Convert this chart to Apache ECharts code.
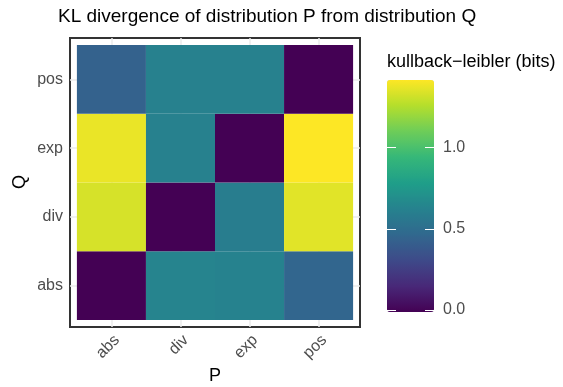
<!DOCTYPE html>
<html>
<head>
<meta charset="utf-8">
<script src="https://cdn.jsdelivr.net/npm/echarts@6/dist/echarts.min.js"></script>
<style>html,body{margin:0;padding:0;background:#fff}#c{width:563px;height:387px}</style>
</head>
<body>
<div id="c"></div>
<script>
// Categories
const pCats = ['abs', 'div', 'exp', 'pos'];   // x axis (P)
const qCats = ['abs', 'div', 'exp', 'pos'];   // y axis (Q), bottom to top
// KL divergence values (bits), one array per Q row, ordered by P
const klQabs = [0.00, 0.64, 0.63, 0.46];
const klQdiv = [1.33, 0.00, 0.60, 1.355];
const klQexp = [1.375, 0.62, 0.00, 1.415];
const klQpos = [0.44, 0.62, 0.62, 0.00];
const rows = [klQabs, klQdiv, klQexp, klQpos];
// Colour bar ticks
const barTicks = [0, 0.5, 1.0];
const viridis = ['#440154', '#482878', '#3E4A89', '#31688E', '#26828E', '#1F9E89', '#35B779', '#6DCD59', '#B4DE2C', '#FDE725'];

const data = [];
rows.forEach((r, qi) => r.forEach((v, pi) => data.push([pi, qi, v])));
const vmax = Math.max(...data.map(d => d[2]));
const vmin = Math.min(...data.map(d => d[2]));

const FONT = "'Liberation Sans', Arial, sans-serif";
const chart = echarts.init(document.getElementById('c'), null, {renderer: 'canvas'});
chart.setOption({
  animation: false,
  backgroundColor: '#fff',
  textStyle: {fontFamily: FONT},
  title: {
    text: 'KL divergence of distribution P from distribution Q',
    left: 58, top: 7, padding: 0,
    textStyle: {fontSize: 19, fontWeight: 'normal', color: '#000', fontFamily: FONT}
  },
  grid: [
    {left: 70, top: 38, width: 290, height: 289, show: true, borderColor: '#333333', borderWidth: 2, backgroundColor: '#fff', z: 0},
    {left: 387, top: 80, width: 47, height: 232, show: false}
  ],
  xAxis: [
    {
      type: 'value', gridIndex: 0, min: -0.6, max: 3.6,
      axisLine: {show: false},
      axisTick: {show: true, length: 4, lineStyle: {color: '#333', width: 1.5}, customValues: [0, 1, 2, 3]},
      axisLabel: {customValues: [0, 1, 2, 3], formatter: v => pCats[v], rotate: 45, margin: 5, verticalAlign: 'top', color: '#4D4D4D', fontSize: 16, fontFamily: FONT},
      splitLine: {show: true, lineStyle: {color: '#EBEBEB', width: 1.5}}
    },
    {type: 'value', gridIndex: 1, min: 0, max: 1, show: false}
  ],
  yAxis: [
    {
      type: 'value', gridIndex: 0, min: -0.6, max: 3.6,
      axisLine: {show: false},
      axisTick: {show: true, length: 4, lineStyle: {color: '#333', width: 1.5}, customValues: [0, 1, 2, 3]},
      axisLabel: {customValues: [0, 1, 2, 3], formatter: v => qCats[v], margin: 7, color: '#4D4D4D', fontSize: 16, fontFamily: FONT},
      splitLine: {show: true, lineStyle: {color: '#EBEBEB', width: 1.5}}
    },
    {
      type: 'value', gridIndex: 1, min: -0.012, max: vmax, position: 'left',
      axisLine: {show: false},
      axisTick: {show: true, inside: true, length: 9, lineStyle: {color: '#fff', width: 1}, customValues: barTicks},
      axisLabel: {show: false},
      splitLine: {show: false}, z: 10
    },
    {
      type: 'value', gridIndex: 1, min: -0.012, max: vmax, position: 'right',
      axisLine: {show: false},
      axisTick: {show: true, inside: true, length: 9, lineStyle: {color: '#fff', width: 1}, customValues: barTicks},
      axisLabel: {customValues: barTicks, formatter: v => v.toFixed(1), margin: 9, color: '#4D4D4D', fontSize: 16, fontFamily: FONT},
      splitLine: {show: false}, z: 10
    }
  ],
  visualMap: {
    type: 'continuous', min: vmin, max: vmax, dimension: 2, seriesIndex: 0,
    calculable: false, hoverLink: false, realtime: false,
    left: 387, top: 80, itemWidth: 47, itemHeight: 232, padding: 0,
    text: null, showLabel: false,
    inRange: {color: viridis}
  },
  graphic: [
    {type: 'text', left: 387, top: 53, style: {text: 'kullback\u2212leibler (bits)', fontSize: 18, fill: '#000', fontFamily: FONT}},
    {type: 'text', x: 215, y: 376, style: {text: 'P', fontSize: 18, fill: '#000', fontFamily: FONT, align: 'center', verticalAlign: 'middle'}},
    {type: 'text', x: 20, y: 182, rotation: Math.PI / 2, style: {text: 'Q', fontSize: 18, fill: '#000', fontFamily: FONT, align: 'center', verticalAlign: 'middle'}}
  ],
  series: [{
    type: 'custom', xAxisIndex: 0, yAxisIndex: 0,
    encode: {x: 0, y: 1},
    data: data,
    renderItem: (params, api) => {
      const x = api.value(0), y = api.value(1);
      const p0 = api.coord([x - 0.5, y + 0.5]);
      const p1 = api.coord([x + 0.5, y - 0.5]);
      return {type: 'rect', shape: {x: p0[0], y: p0[1], width: p1[0] - p0[0], height: p1[1] - p0[1]}, style: {fill: api.visual('color')}};
    },
    z: 2
  }]
});
</script>
</body>
</html>
